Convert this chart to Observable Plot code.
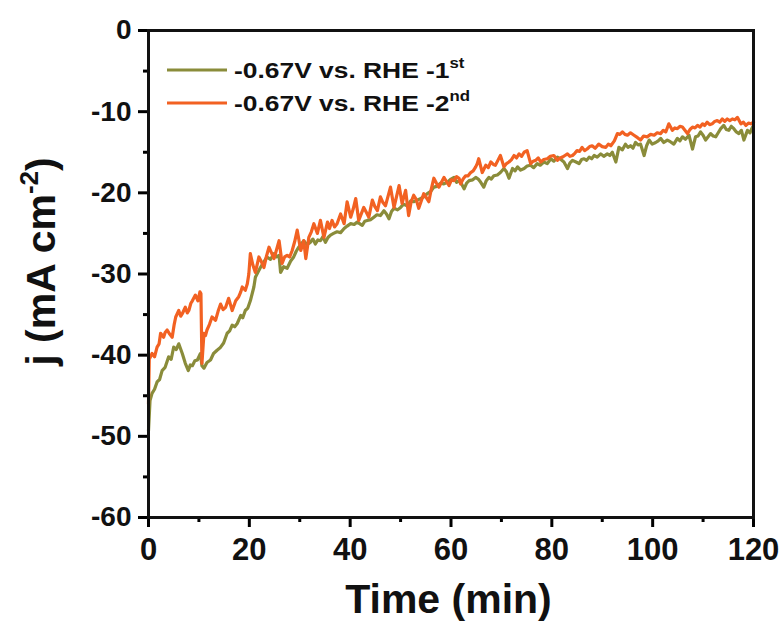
<!DOCTYPE html>
<html>
<head>
<meta charset="utf-8">
<script src="https://cdn.jsdelivr.net/npm/d3@7"></script>
<script src="https://cdn.jsdelivr.net/npm/@observablehq/plot@0.6"></script>
<style>
  html, body { margin: 0; padding: 0; background: #fff; }
  #chart svg { display: block; font-family: "Liberation Sans", Arial, sans-serif; font-weight: bold; }
</style>
</head>
<body>
<div id="chart"></div>
<script>
// ---- data ----
const seriesNames = ["-0.67V vs. RHE -1", "-0.67V vs. RHE -2"];
const seriesSup = ["st", "nd"];
const seriesColors = ["#8a8c3a", "#f26122"];

const xTicks = [0, 20, 40, 60, 80, 100, 120];
const xMinorTicks = [10, 30, 50, 70, 90, 110];
const yTicks = [-60, -50, -40, -30, -20, -10, 0];
const yMinorTicks = [-55, -45, -35, -25, -15, -5];

const xTitle = "Time (min)";
const yTitle = "j (mA cm";
const yTitleSup = "-2";

// [time (min), j (mA cm^-2)]
const run1 = [
  [0,-49.3],[0.3,-45.6],[0.7,-44.7],[1.2,-44.2],[1.7,-43.3],[2.2,-43.0],[2.7,-41.9],[3.3,-41.5],[4,-40.2],[4.5,-40.5],[5,-39.0],[5.5,-39.3],[6,-38.6],[6.7,-39.8],[7.3,-41],
  [7.9,-41.9],[8.3,-41.2],[8.7,-41.3],[9.2,-40.7],[9.7,-40.6],[10.3,-39.8],[10.6,-41.3],[11,-41.6],[11.6,-40.9],[12.3,-40.6],[12.9,-39.8],[13.6,-39.4],[14.2,-39.1],[14.9,-38.5],[15.6,-37.3],
  [16.1,-37.0],[16.6,-36.3],[17.1,-36.5],[17.6,-36.1],[18.3,-35.1],[18.7,-35.4],[19.2,-34.5],[19.7,-34.2],[20.2,-33.3],[20.9,-31.6],[21.2,-30.4],[21.7,-29.8],[22.2,-29.2],[22.8,-28.6],[23.5,-27.9],[24.2,-28.2],[24.9,-27.5],
  [25.4,-27.9],[25.9,-27.7],[26.2,-29.8],[26.8,-29.1],[27.5,-29.3],[28.2,-28.4],[28.8,-27.9],[29.3,-27.2],[29.8,-26.7],[30.3,-26.3],[30.8,-25.9],[31.4,-26.4],[32.1,-26.1],[32.6,-25.7],[33.1,-26.3],[33.6,-25.8],[34.1,-25.9],[34.6,-25.4],[35.1,-26.1],
  [35.6,-25.5],[36.1,-25.2],[36.7,-25.0],[37.4,-24.8],[38.1,-24.9],[38.8,-24.4],[39.4,-24.1],[40.1,-23.8],[40.8,-23.9],[41.4,-23.6],[42.4,-24.0],[42.9,-23.5],[43.4,-23.4],[44.1,-23.3],[44.7,-23],[45.3,-22.7],[46,-22.8],[46.7,-22.2],
  [47.2,-22.6],[47.7,-23.2],[48.2,-22.3],[48.7,-21.9],[49.4,-22.1],[50,-21.8],[50.6,-21.4],[51.3,-21.6],[52,-21.0],[52.6,-21.1],[53.3,-20.9],[54,-20.7],[54.6,-20.5],[55.3,-20.1],[56,-19.8],[56.6,-19.3],[57.2,-19.2],[57.9,-18.8],[58.6,-18.9],[59.3,-18.7],
  [60,-18.3],[60.6,-18.1],[61.1,-18.7],[61.6,-18.5],[62.1,-18.9],[62.6,-19.5],[63.1,-18.8],[63.6,-18.5],[64.3,-18.4],[64.9,-18.1],[65.4,-18.3],[65.9,-18.7],[66.5,-19.3],[67,-18.5],[67.5,-18.1],[68,-18.3],[68.5,-17.9],[69.2,-17.8],[69.8,-17.5],
  [70.5,-17.0],[71,-17.4],[71.5,-18.2],[72.2,-17],[72.7,-17.3],[73.2,-16.8],[73.8,-17.2],[74.5,-17],[75.1,-16.7],[75.8,-16.6],[76.4,-16.9],[77.1,-16.4],[77.7,-16.6],[78.4,-16.2],[79.1,-16.4],[79.8,-15.8],[80.4,-16.1],[81.1,-15.6],
  [81.8,-15.9],[82.4,-16.2],[83.1,-17],[83.6,-16.3],[84.1,-16],[84.8,-16.2],[85.4,-16.4],[85.9,-15.9],[86.4,-15.8],[86.9,-16.0],[87.4,-15.6],[87.9,-15.8],[88.4,-15.4],[89,-15.6],[89.7,-15.2],[90.3,-15.5],[91,-15.2],[91.5,-15.4],[92,-15],
  [92.7,-16.2],[93.3,-14.4],[94,-14.7],[94.6,-14],[95.1,-14.4],[95.6,-14.2],[96.1,-14.5],[96.6,-13.8],[97.1,-14.1],[97.6,-14],[98.3,-15.4],[98.8,-14.2],[99.3,-13.5],[99.9,-14.0],[100.6,-13.8],[101.1,-13.6],[101.6,-13.3],
  [102.2,-13.8],[102.9,-13.5],[103.5,-13.7],[104.2,-14],[104.9,-13.3],[105.4,-13.6],[105.9,-13.1],[106.5,-13.4],[107.2,-12.9],[107.9,-14.6],[108.5,-13.1],[109,-13.0],[109.5,-12.5],[110,-12.9],[110.5,-13.5],[111,-13.1],[111.5,-12.7],
  [112,-13.0],[112.5,-13.1],[113,-12.6],[113.5,-12.1],[114.1,-11.7],[114.6,-12.2],[115.1,-12.3],[115.6,-11.8],[116.1,-12.1],[116.6,-12.5],[117.1,-12.7],[117.6,-12.3],[118.1,-13.5],[118.8,-12.3],[119.3,-12.6],[119.8,-11.9]
];

const run2 = [
  [0,-46],[0.15,-40.5],[0.7,-39.8],[1.2,-40.2],[1.7,-39],[2.1,-38.6],[2.4,-37.3],[3,-37.8],[3.3,-37.2],[3.7,-36.9],[4.2,-37.4],[4.7,-37.8],[5.1,-36.2],[5.4,-35.3],[6,-34.5],
  [6.4,-35.2],[6.7,-34.9],[7.3,-34.1],[7.7,-34.8],[8,-34.5],[8.4,-33.6],[8.7,-33.3],[9.3,-32.6],[9.8,-33.3],[10.2,-32.2],[10.4,-32.4],[10.6,-41.0],[11,-37.3],
  [11.3,-37.6],[11.6,-36.9],[12.1,-36.2],[12.6,-35.3],[13.3,-35.7],[13.8,-34.6],[14.3,-33.7],[14.8,-34.4],[15.3,-34.1],[15.9,-33],[16.6,-34.5],[17.3,-33.3],[17.9,-32.8],[18.3,-32.2],[18.6,-31.6],
  [19.2,-32],[19.6,-31.2],[19.9,-30],[20.2,-27.5],[20.7,-28.9],[21.2,-29.8],[21.9,-27.9],[22.4,-28.5],[22.9,-29.2],[23.4,-27.8],[23.9,-26.7],[24.4,-27.4],[24.9,-28.1],[25.4,-27.0],[25.9,-25.9],[26.5,-28.7],
  [27,-27.9],[27.5,-27.7],[28,-27.9],[28.5,-27.1],[29,-26.0],[29.5,-24.6],[30.2,-27.1],[30.8,-25.9],[31.2,-28.1],[31.8,-25.5],[32.3,-24.8],[32.8,-23.8],[33.5,-25],[34.1,-23.4],
  [34.8,-25.5],[35.5,-23.6],[35.9,-24.4],[36.4,-23.4],[36.9,-24.2],[37.4,-23.8],[38.1,-22.6],[38.8,-23.8],[39.4,-21.1],[40.1,-23],[40.6,-22.0],[41.1,-20.7],[41.7,-23.4],
  [42.7,-21.8],[43.2,-22.4],[43.7,-23],[44.4,-20.9],[44.9,-21.7],[45.4,-22.2],[46,-20.5],[46.5,-21.2],[47,-21.6],[48,-19.3],[48.7,-21.8],[49.7,-19.1],[50.3,-21.3],
  [51,-19.7],[51.6,-22.8],[52.1,-21.1],[52.6,-20.3],[53.1,-20.8],[53.6,-21.9],[54.6,-20.1],[55.1,-20.6],[55.6,-21.1],[56.1,-19.5],[56.6,-18.2],[57.1,-18.8],[57.6,-19.3],[58.6,-18.1],[59.1,-18.6],[59.6,-19.1],
  [60.1,-18.4],[60.6,-18.5],[61.1,-18.0],[61.6,-18.2],[61.9,-18.9],[62.4,-18.3],[62.9,-17.9],[63.4,-17.9],[63.9,-17.5],[64.4,-17.3],[64.9,-16.8],[65.2,-16.4],[65.5,-15.8],[66.2,-17.5],[66.9,-16.6],[67.4,-16.9],[67.9,-16.2],
  [68.4,-16.5],[68.8,-16.6],[69.3,-16.0],[69.8,-15.4],[70.5,-16.8],[71,-16.4],[71.5,-16.2],[72,-15.9],[72.5,-15.4],[73,-15.7],[73.5,-15.2],[74,-15.5],[74.5,-15.0],[75.1,-14.8],[75.8,-16.4],[76.3,-16.1],[76.8,-16.0],
  [77.3,-15.7],[77.8,-16.2],[78.4,-15.9],[79.1,-15.8],[79.7,-15.5],[80.4,-15.4],[81.1,-16],[81.6,-15.7],[82.1,-15.6],[82.6,-15.4],[83.1,-15.2],[83.6,-15.5],[84.1,-15.4],[84.6,-15.1],[85,-14.8],[85.5,-14.9],[86,-14.4],[86.5,-14.8],[87,-14.6],
  [87.5,-14.3],[88,-14.2],[88.6,-14.5],[89.3,-14],[90,-14.3],[90.7,-14.4],[91.2,-14.0],[91.7,-14.2],[92.4,-13.6],[93,-12.7],[93.5,-12.8],[94,-12.5],[94.5,-12.8],[95,-12.9],[95.6,-12.6],[96.3,-12.9],[97,-13.2],[97.6,-13.5],
  [98.2,-13.0],[98.9,-13.1],[99.6,-12.8],[100.3,-12.9],[100.9,-12.6],[101.6,-12.7],[102.1,-12.3],[102.6,-12.5],[103.2,-11.5],[103.9,-12.3],[104.4,-12.0],[104.9,-12.1],[105.4,-11.8],[105.9,-11.9],[106.4,-12.3],[106.9,-12.7],[107.4,-12.2],[107.9,-11.9],
  [108.4,-12.0],[108.9,-11.7],[109.4,-11.9],[109.9,-11.5],[110.3,-11.7],[110.8,-11.3],[111.3,-11.6],[111.8,-11.5],[112.3,-11.2],[112.8,-11.1],[113.3,-11.3],[113.8,-10.9],[114.3,-11.2],[114.8,-10.9],[115.3,-11.1],[115.8,-10.9],[116.3,-11.0],[116.8,-10.7],[117.5,-11.5],
  [118,-11.3],[118.5,-11.7],[119,-11.4],[119.5,-11.5],[120,-11.3]
];

// ---- build table ----
const rows = [];
[run1, run2].forEach((run, i) => run.forEach(([t, j]) => rows.push({t, j, series: seriesNames[i]})));

const W = 784, H = 627;
const M = {left: 148, right: 31, top: 30, bottom: 110};

const svg = Plot.plot({
  width: W,
  height: H,
  marginLeft: M.left,
  marginRight: M.right,
  marginTop: M.top,
  marginBottom: M.bottom,
  style: {fontFamily: '"Liberation Sans", Arial, sans-serif', fontWeight: "bold", background: "#fff", overflow: "visible"},
  x: {domain: [0, 120], label: null},
  y: {domain: [-60, 0], label: null},
  color: {domain: seriesNames, range: seriesColors},
  marks: [
    Plot.line(rows, {x: "t", y: "j", stroke: "series", strokeWidth: 3.2, strokeLinejoin: "round", curve: "linear"}),
    Plot.axisX({ticks: xMinorTicks, tickSize: 5, strokeWidth: 3, tickFormat: () => "", label: null}),
    Plot.axisY({ticks: yMinorTicks, tickSize: 5, strokeWidth: 3, tickFormat: () => "", label: null}),
    Plot.axisX({ticks: xTicks, tickSize: 10, tickPadding: 10, strokeWidth: 3, fontSize: 31, fill: "#111", label: null}),
    Plot.axisY({ticks: yTicks, tickSize: 10, tickPadding: 7, strokeWidth: 3, fontSize: 28, fill: "#111", label: null,
      tickFormat: d => d === 0 ? "0" : String(d).replace("−", "-")}),
    Plot.frame({stroke: "#111", strokeWidth: 3})
  ]
});

const sx = svg.scale("x"), sy = svg.scale("y");
const g = d3.select(svg).append("g").attr("fill", "#111").style("font-weight", "bold");

// axis titles
const cx = (sx.apply(0) + sx.apply(120)) / 2;
g.append("text").attr("x", cx - 2).attr("y", 613).attr("text-anchor", "middle")
  .attr("font-size", 41).text(xTitle);

const cy = (sy.apply(-60) + sy.apply(0)) / 2 - 12;
const yt = g.append("text").attr("transform", `translate(55,${cy}) rotate(-90)`)
  .attr("text-anchor", "middle").attr("font-size", 41);
yt.append("tspan").text(yTitle);
yt.append("tspan").attr("font-size", 26).attr("dy", -17).text(yTitleSup);
yt.append("tspan").attr("dy", 17).text(")");

// legend
const lx = 167, ly = [70, 103];
seriesNames.forEach((name, i) => {
  g.append("line").attr("x1", lx).attr("x2", lx + 60).attr("y1", ly[i]).attr("y2", ly[i])
    .attr("stroke", seriesColors[i]).attr("stroke-width", 3.2);
  const t = g.append("text")
    .attr("transform", `translate(${lx + 67},${ly[i] + 8}) scale(1.2,1)`)
    .attr("font-size", 22).attr("text-anchor", "start");
  t.append("tspan").text(name);
  t.append("tspan").attr("font-size", 14).attr("dy", -10).text(seriesSup[i]);
});

document.getElementById("chart").appendChild(svg);
</script>
</body>
</html>
